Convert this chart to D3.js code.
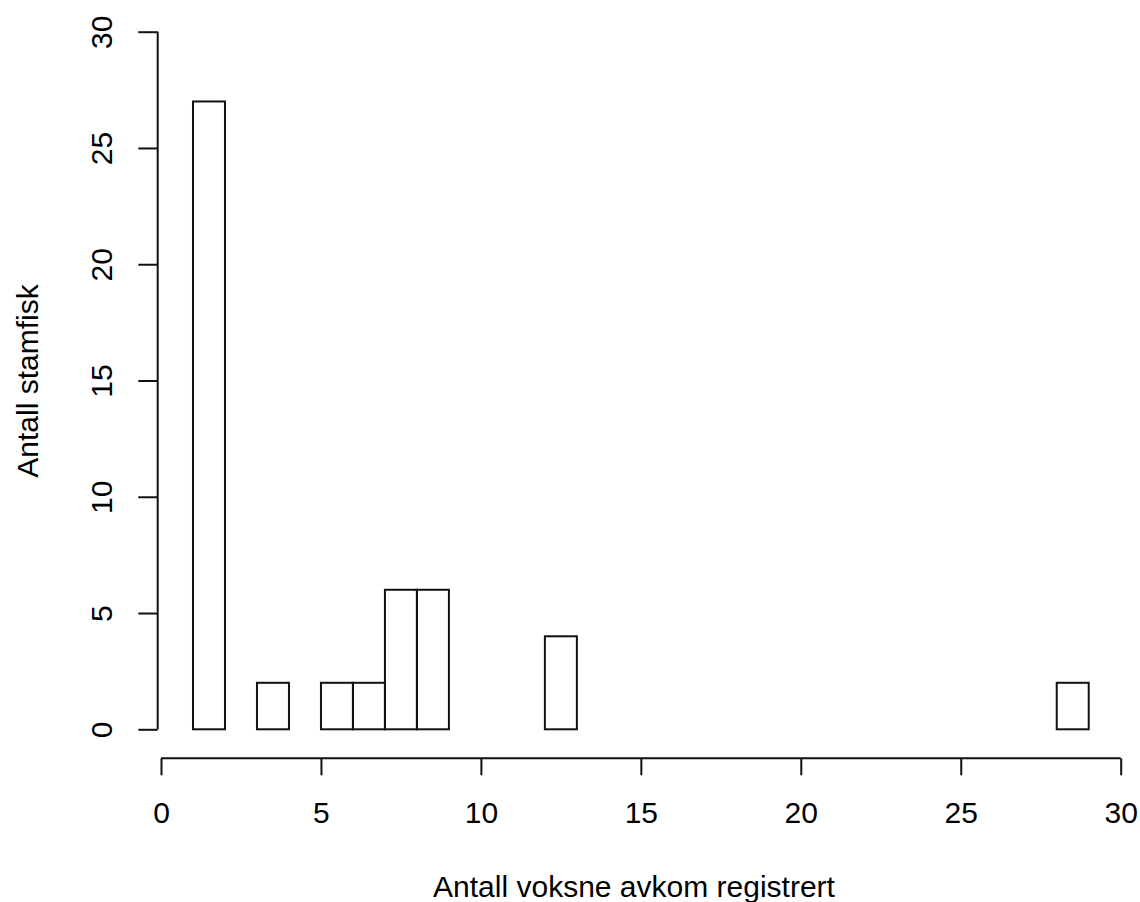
<!DOCTYPE html>
<html>
<head>
<meta charset="utf-8">
<script src="https://cdn.jsdelivr.net/npm/d3@7"></script>
<style>
  html, body { margin: 0; padding: 0; background: #fff; }
  svg { display: block; }
  text { font-family: "Liberation Sans", Arial, sans-serif; fill: #000; }
</style>
</head>
<body>
<svg id="chart" width="1140" height="902"></svg>
<script>
// Histogram: number of adult offspring registered per broodfish
const binEdges = [1, 2, 3, 4, 5, 6, 7, 8, 9, 10, 11, 12, 13, 14, 15, 16, 17, 18, 19, 20, 21, 22, 23, 24, 25, 26, 27, 28, 29];
const counts   = [27, 0, 2, 0, 2, 2, 6, 6, 0, 0, 0, 4, 0, 0, 0, 0, 0, 0, 0, 0, 0, 0, 0, 0, 0, 0, 0, 2];
const xTicks = [0, 5, 10, 15, 20, 25, 30];
const yTicks = [0, 5, 10, 15, 20, 25, 30];
const xTitle = "Antall voksne avkom registrert";
const yTitle = "Antall stamfisk";

const bins = counts.map((c, i) => ({ x0: binEdges[i], x1: binEdges[i + 1], count: c }));

const svg = d3.select("#chart");
const x = d3.scaleLinear().domain([0, 30]).range([161, 1120.7]);
const y = d3.scaleLinear().domain([0, 30]).range([729.3, 31.7]);

const stroke = "#111";
const lw = 2;

// bars (zero-count bins collapse to a line on the baseline)
svg.append("g")
  .selectAll("rect")
  .data(bins)
  .join("rect")
  .attr("x", d => x(d.x0))
  .attr("y", d => y(d.count))
  .attr("width", d => x(d.x1) - x(d.x0))
  .attr("height", d => y(0) - y(d.count))
  .attr("fill", "none")
  .attr("stroke", stroke)
  .attr("stroke-width", lw);

// x axis
const xAxis = d3.axisBottom(x).tickValues(xTicks).tickSize(17).tickSizeOuter(0);
const gx = svg.append("g").attr("transform", "translate(0,758.3)").call(xAxis);
gx.select(".domain").attr("stroke", stroke).attr("stroke-width", lw)
  .attr("d", `M${x(0)},0H${x(30)}`);
gx.selectAll(".tick line").attr("stroke", stroke).attr("stroke-width", lw);
gx.selectAll(".tick text")
  .attr("font-size", 30).attr("font-family", "Liberation Sans, Arial, sans-serif")
  .attr("fill", "#000")
  .attr("dy", null).attr("y", 65);

// y axis with rotated labels
const yAxis = d3.axisLeft(y).tickValues(yTicks).tickSize(19.4).tickSizeOuter(0);
const gy = svg.append("g").attr("transform", "translate(157.7,0)").call(yAxis);
gy.select(".domain").attr("stroke", stroke).attr("stroke-width", lw)
  .attr("d", `M0,${y(0)}V${y(30)}`);
gy.selectAll(".tick line").attr("stroke", stroke).attr("stroke-width", lw);
gy.selectAll(".tick text")
  .attr("font-size", 30).attr("font-family", "Liberation Sans, Arial, sans-serif")
  .attr("fill", "#000")
  .attr("x", null).attr("dy", null)
  .attr("text-anchor", "middle")
  .attr("transform", "translate(-45.7,0) rotate(-90)");

// axis titles
svg.append("text")
  .attr("x", 634).attr("y", 897)
  .attr("text-anchor", "middle")
  .attr("font-size", 30)
  .text(xTitle);

svg.append("text")
  .attr("transform", "translate(38,381) rotate(-90)")
  .attr("text-anchor", "middle")
  .attr("font-size", 30)
  .text(yTitle);
</script>
</body>
</html>
